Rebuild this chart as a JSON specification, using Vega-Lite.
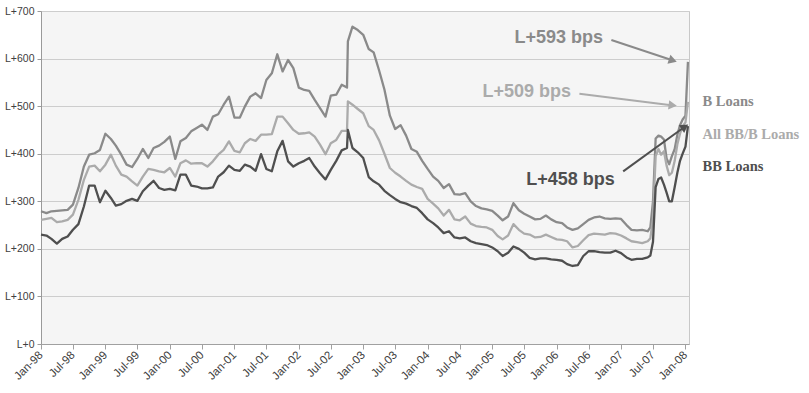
{
  "$schema": "https://vega.github.io/schema/vega-lite/v6.json",
  "width": 648,
  "height": 333,
  "autosize": {"type": "none"},
  "padding": {"left": 41, "top": 11, "right": 120, "bottom": 49},
  "background": "white",
  "config": {
    "view": {"fill": "#f5f5f5", "stroke": "#c8c8c8", "strokeWidth": 1},
    "font": "Liberation Sans",
    "axis": {"labelFont": "Liberation Sans", "labelFontSize": 10.5, "labelColor": "#404040", "title": null}
  },
  "datasets": {
    "spreads": [
      {"date": "1998-01-01", "B Loans": 279, "All BB/B Loans": 261, "BB Loans": 230},
      {"date": "1998-02-01", "B Loans": 275, "All BB/B Loans": 263, "BB Loans": 228},
      {"date": "1998-03-01", "B Loans": 279, "All BB/B Loans": 265, "BB Loans": 221},
      {"date": "1998-04-01", "B Loans": 280, "All BB/B Loans": 256, "BB Loans": 211},
      {"date": "1998-05-01", "B Loans": 281, "All BB/B Loans": 258, "BB Loans": 221},
      {"date": "1998-06-01", "B Loans": 282, "All BB/B Loans": 261, "BB Loans": 226},
      {"date": "1998-07-01", "B Loans": 293, "All BB/B Loans": 272, "BB Loans": 240},
      {"date": "1998-08-01", "B Loans": 328, "All BB/B Loans": 303, "BB Loans": 252},
      {"date": "1998-09-01", "B Loans": 373, "All BB/B Loans": 345, "BB Loans": 289},
      {"date": "1998-10-01", "B Loans": 398, "All BB/B Loans": 373, "BB Loans": 333},
      {"date": "1998-11-01", "B Loans": 401, "All BB/B Loans": 375, "BB Loans": 333},
      {"date": "1998-12-01", "B Loans": 408, "All BB/B Loans": 363, "BB Loans": 298},
      {"date": "1999-01-01", "B Loans": 442, "All BB/B Loans": 377, "BB Loans": 322},
      {"date": "1999-02-01", "B Loans": 431, "All BB/B Loans": 398, "BB Loans": 307},
      {"date": "1999-03-01", "B Loans": 417, "All BB/B Loans": 375, "BB Loans": 291},
      {"date": "1999-04-01", "B Loans": 398, "All BB/B Loans": 356, "BB Loans": 294},
      {"date": "1999-05-01", "B Loans": 377, "All BB/B Loans": 352, "BB Loans": 301},
      {"date": "1999-06-01", "B Loans": 372, "All BB/B Loans": 342, "BB Loans": 305},
      {"date": "1999-07-01", "B Loans": 389, "All BB/B Loans": 333, "BB Loans": 301},
      {"date": "1999-08-01", "B Loans": 410, "All BB/B Loans": 352, "BB Loans": 321},
      {"date": "1999-09-01", "B Loans": 391, "All BB/B Loans": 368, "BB Loans": 333},
      {"date": "1999-10-01", "B Loans": 412, "All BB/B Loans": 366, "BB Loans": 343},
      {"date": "1999-11-01", "B Loans": 417, "All BB/B Loans": 363, "BB Loans": 328},
      {"date": "1999-12-01", "B Loans": 425, "All BB/B Loans": 361, "BB Loans": 324},
      {"date": "2000-01-01", "B Loans": 436, "All BB/B Loans": 370, "BB Loans": 326},
      {"date": "2000-02-01", "B Loans": 389, "All BB/B Loans": 352, "BB Loans": 323},
      {"date": "2000-03-01", "B Loans": 426, "All BB/B Loans": 380, "BB Loans": 356},
      {"date": "2000-04-01", "B Loans": 433, "All BB/B Loans": 386, "BB Loans": 356},
      {"date": "2000-05-01", "B Loans": 447, "All BB/B Loans": 379, "BB Loans": 333},
      {"date": "2000-06-01", "B Loans": 454, "All BB/B Loans": 380, "BB Loans": 331},
      {"date": "2000-07-01", "B Loans": 461, "All BB/B Loans": 380, "BB Loans": 327},
      {"date": "2000-08-01", "B Loans": 450, "All BB/B Loans": 373, "BB Loans": 327},
      {"date": "2000-09-01", "B Loans": 478, "All BB/B Loans": 384, "BB Loans": 329},
      {"date": "2000-10-01", "B Loans": 483, "All BB/B Loans": 398, "BB Loans": 352},
      {"date": "2000-11-01", "B Loans": 503, "All BB/B Loans": 408, "BB Loans": 361},
      {"date": "2000-12-01", "B Loans": 520, "All BB/B Loans": 426, "BB Loans": 375},
      {"date": "2001-01-01", "B Loans": 476, "All BB/B Loans": 406, "BB Loans": 366},
      {"date": "2001-02-01", "B Loans": 476, "All BB/B Loans": 403, "BB Loans": 364},
      {"date": "2001-03-01", "B Loans": 499, "All BB/B Loans": 422, "BB Loans": 377},
      {"date": "2001-04-01", "B Loans": 520, "All BB/B Loans": 431, "BB Loans": 373},
      {"date": "2001-05-01", "B Loans": 527, "All BB/B Loans": 427, "BB Loans": 364},
      {"date": "2001-06-01", "B Loans": 517, "All BB/B Loans": 440, "BB Loans": 399},
      {"date": "2001-07-01", "B Loans": 555, "All BB/B Loans": 440, "BB Loans": 368},
      {"date": "2001-08-01", "B Loans": 569, "All BB/B Loans": 441, "BB Loans": 363},
      {"date": "2001-09-01", "B Loans": 609, "All BB/B Loans": 478, "BB Loans": 405},
      {"date": "2001-10-01", "B Loans": 573, "All BB/B Loans": 478, "BB Loans": 427},
      {"date": "2001-11-01", "B Loans": 597, "All BB/B Loans": 464, "BB Loans": 384},
      {"date": "2001-12-01", "B Loans": 580, "All BB/B Loans": 450, "BB Loans": 373},
      {"date": "2002-01-01", "B Loans": 539, "All BB/B Loans": 442, "BB Loans": 380},
      {"date": "2002-02-01", "B Loans": 534, "All BB/B Loans": 443, "BB Loans": 385},
      {"date": "2002-03-01", "B Loans": 532, "All BB/B Loans": 445, "BB Loans": 391},
      {"date": "2002-04-01", "B Loans": 513, "All BB/B Loans": 436, "BB Loans": 373},
      {"date": "2002-05-01", "B Loans": 496, "All BB/B Loans": 419, "BB Loans": 359},
      {"date": "2002-06-01", "B Loans": 478, "All BB/B Loans": 399, "BB Loans": 346},
      {"date": "2002-07-01", "B Loans": 522, "All BB/B Loans": 422, "BB Loans": 366},
      {"date": "2002-08-01", "B Loans": 524, "All BB/B Loans": 429, "BB Loans": 385},
      {"date": "2002-09-01", "B Loans": 545, "All BB/B Loans": 448, "BB Loans": 407},
      {"date": "2002-10-01", "B Loans": 539, "All BB/B Loans": 448, "BB Loans": 412},
      {"date": "2002-10-06", "B Loans": 636, "All BB/B Loans": 510, "BB Loans": 450},
      {"date": "2002-11-01", "B Loans": 667, "All BB/B Loans": 503, "BB Loans": 412},
      {"date": "2002-12-01", "B Loans": 660, "All BB/B Loans": 494, "BB Loans": 403},
      {"date": "2003-01-01", "B Loans": 650, "All BB/B Loans": 485, "BB Loans": 391},
      {"date": "2003-02-01", "B Loans": 620, "All BB/B Loans": 458, "BB Loans": 351},
      {"date": "2003-03-01", "B Loans": 613, "All BB/B Loans": 450, "BB Loans": 342},
      {"date": "2003-04-01", "B Loans": 575, "All BB/B Loans": 428, "BB Loans": 335},
      {"date": "2003-05-01", "B Loans": 535, "All BB/B Loans": 400, "BB Loans": 322},
      {"date": "2003-06-01", "B Loans": 480, "All BB/B Loans": 370, "BB Loans": 313},
      {"date": "2003-07-01", "B Loans": 452, "All BB/B Loans": 360, "BB Loans": 305},
      {"date": "2003-08-01", "B Loans": 460, "All BB/B Loans": 352, "BB Loans": 298},
      {"date": "2003-09-01", "B Loans": 438, "All BB/B Loans": 343, "BB Loans": 295},
      {"date": "2003-10-01", "B Loans": 410, "All BB/B Loans": 335, "BB Loans": 290},
      {"date": "2003-11-01", "B Loans": 404, "All BB/B Loans": 330, "BB Loans": 286},
      {"date": "2003-12-01", "B Loans": 385, "All BB/B Loans": 326, "BB Loans": 275},
      {"date": "2004-01-01", "B Loans": 368, "All BB/B Loans": 305, "BB Loans": 262},
      {"date": "2004-02-01", "B Loans": 352, "All BB/B Loans": 295, "BB Loans": 254},
      {"date": "2004-03-01", "B Loans": 343, "All BB/B Loans": 285, "BB Loans": 245},
      {"date": "2004-04-01", "B Loans": 328, "All BB/B Loans": 270, "BB Loans": 233},
      {"date": "2004-05-01", "B Loans": 336, "All BB/B Loans": 282, "BB Loans": 237},
      {"date": "2004-06-01", "B Loans": 315, "All BB/B Loans": 262, "BB Loans": 224},
      {"date": "2004-07-01", "B Loans": 314, "All BB/B Loans": 260, "BB Loans": 222},
      {"date": "2004-08-01", "B Loans": 317, "All BB/B Loans": 268, "BB Loans": 224},
      {"date": "2004-09-01", "B Loans": 300, "All BB/B Loans": 253, "BB Loans": 216},
      {"date": "2004-10-01", "B Loans": 290, "All BB/B Loans": 248, "BB Loans": 212},
      {"date": "2004-11-01", "B Loans": 285, "All BB/B Loans": 246, "BB Loans": 210},
      {"date": "2004-12-01", "B Loans": 283, "All BB/B Loans": 245, "BB Loans": 208},
      {"date": "2005-01-01", "B Loans": 280, "All BB/B Loans": 240, "BB Loans": 203},
      {"date": "2005-02-01", "B Loans": 270, "All BB/B Loans": 227, "BB Loans": 195},
      {"date": "2005-03-01", "B Loans": 260, "All BB/B Loans": 220, "BB Loans": 185},
      {"date": "2005-04-01", "B Loans": 268, "All BB/B Loans": 228, "BB Loans": 192},
      {"date": "2005-05-01", "B Loans": 296, "All BB/B Loans": 252, "BB Loans": 205},
      {"date": "2005-06-01", "B Loans": 281, "All BB/B Loans": 240, "BB Loans": 200},
      {"date": "2005-07-01", "B Loans": 274, "All BB/B Loans": 232, "BB Loans": 192},
      {"date": "2005-08-01", "B Loans": 268, "All BB/B Loans": 230, "BB Loans": 181},
      {"date": "2005-09-01", "B Loans": 262, "All BB/B Loans": 224, "BB Loans": 178},
      {"date": "2005-10-01", "B Loans": 263, "All BB/B Loans": 225, "BB Loans": 180},
      {"date": "2005-11-01", "B Loans": 270, "All BB/B Loans": 230, "BB Loans": 180},
      {"date": "2005-12-01", "B Loans": 262, "All BB/B Loans": 225, "BB Loans": 178},
      {"date": "2006-01-01", "B Loans": 256, "All BB/B Loans": 220, "BB Loans": 177},
      {"date": "2006-02-01", "B Loans": 254, "All BB/B Loans": 219, "BB Loans": 175},
      {"date": "2006-03-01", "B Loans": 245, "All BB/B Loans": 216, "BB Loans": 168},
      {"date": "2006-04-01", "B Loans": 240, "All BB/B Loans": 203, "BB Loans": 164},
      {"date": "2006-05-01", "B Loans": 243, "All BB/B Loans": 206, "BB Loans": 166},
      {"date": "2006-06-01", "B Loans": 252, "All BB/B Loans": 218, "BB Loans": 185},
      {"date": "2006-07-01", "B Loans": 261, "All BB/B Loans": 229, "BB Loans": 195},
      {"date": "2006-08-01", "B Loans": 266, "All BB/B Loans": 232, "BB Loans": 195},
      {"date": "2006-09-01", "B Loans": 268, "All BB/B Loans": 231, "BB Loans": 193},
      {"date": "2006-10-01", "B Loans": 264, "All BB/B Loans": 230, "BB Loans": 192},
      {"date": "2006-11-01", "B Loans": 263, "All BB/B Loans": 233, "BB Loans": 192},
      {"date": "2006-12-01", "B Loans": 264, "All BB/B Loans": 232, "BB Loans": 196},
      {"date": "2007-01-01", "B Loans": 263, "All BB/B Loans": 228, "BB Loans": 191},
      {"date": "2007-02-01", "B Loans": 250, "All BB/B Loans": 222, "BB Loans": 182},
      {"date": "2007-03-01", "B Loans": 240, "All BB/B Loans": 216, "BB Loans": 177},
      {"date": "2007-04-01", "B Loans": 239, "All BB/B Loans": 214, "BB Loans": 179},
      {"date": "2007-05-01", "B Loans": 240, "All BB/B Loans": 212, "BB Loans": 179},
      {"date": "2007-06-01", "B Loans": 237, "All BB/B Loans": 216, "BB Loans": 182},
      {"date": "2007-06-16", "B Loans": 245, "All BB/B Loans": 222, "BB Loans": 186},
      {"date": "2007-07-01", "B Loans": 300, "All BB/B Loans": 265, "BB Loans": 215},
      {"date": "2007-07-16", "B Loans": 432, "All BB/B Loans": 395, "BB Loans": 330},
      {"date": "2007-08-01", "B Loans": 438, "All BB/B Loans": 410, "BB Loans": 347},
      {"date": "2007-08-16", "B Loans": 436, "All BB/B Loans": 398, "BB Loans": 350},
      {"date": "2007-09-01", "B Loans": 430, "All BB/B Loans": 405, "BB Loans": 335},
      {"date": "2007-09-16", "B Loans": 390, "All BB/B Loans": 375, "BB Loans": 318},
      {"date": "2007-10-01", "B Loans": 378, "All BB/B Loans": 355, "BB Loans": 300},
      {"date": "2007-10-16", "B Loans": 395, "All BB/B Loans": 360, "BB Loans": 300},
      {"date": "2007-11-01", "B Loans": 410, "All BB/B Loans": 385, "BB Loans": 330},
      {"date": "2007-11-16", "B Loans": 440, "All BB/B Loans": 420, "BB Loans": 360},
      {"date": "2007-12-01", "B Loans": 460, "All BB/B Loans": 442, "BB Loans": 385},
      {"date": "2007-12-16", "B Loans": 472, "All BB/B Loans": 458, "BB Loans": 400},
      {"date": "2008-01-01", "B Loans": 480, "All BB/B Loans": 466, "BB Loans": 415},
      {"date": "2008-01-15", "B Loans": 593, "All BB/B Loans": 509, "BB Loans": 458}
    ],
    "notes": [
      {"series": "B Loans", "label": "L+593 bps", "date": "2006-01-13", "value": 633},
      {"series": "All BB/B Loans", "label": "L+509 bps", "date": "2005-07-16", "value": 520},
      {"series": "BB Loans", "label": "L+458 bps", "date": "2006-03-20", "value": 335}
    ],
    "arrows": [
      {"series": "B Loans", "date": "2006-11-07", "value": 639, "date2": "2007-10-14", "value2": 597},
      {"series": "All BB/B Loans", "date": "2006-05-10", "value": 526, "date2": "2007-10-13", "value2": 502},
      {"series": "BB Loans", "date": "2007-01-13", "value": 363, "date2": "2007-12-22", "value2": 455}
    ]
  },
  "encoding": {
    "x": {
      "field": "date", "type": "temporal",
      "scale": {"type": "utc", "domain": [883612800000, 1200873600000]},
      "axis": {
        "format": "%b-%y", "tickCount": {"interval": "month", "step": 6},
        "labelAngle": -45, "labelAlign": "right", "labelBaseline": "middle",
        "labelFontSize": 11.5, "labelPadding": 4, "tickSize": 5, "grid": false,
        "domainColor": "#a0a0a0", "tickColor": "#a0a0a0",
        "labelOverlap": false, "labelFlush": false
      }
    },
    "y": {
      "field": "value", "type": "quantitative",
      "scale": {"domain": [0, 700], "nice": false},
      "axis": {
        "values": [0, 100, 200, 300, 400, 500, 600, 700],
        "labelExpr": "'L+' + datum.value",
        "grid": true, "gridColor": "#cdcdcd", "gridWidth": 1,
        "domainColor": "#9a9a9a", "tickColor": "#9a9a9a", "tickSize": 4, "labelPadding": 3
      }
    },
    "color": {
      "field": "series", "type": "nominal",
      "scale": {"domain": ["B Loans", "All BB/B Loans", "BB Loans"], "range": ["#8a8a8a", "#ababab", "#4f4f4f"]},
      "legend": {
        "orient": "none", "legendX": 647, "legendY": 84, "title": null,
        "symbolSize": 0, "symbolStrokeWidth": 0, "symbolOpacity": 0, "labelOffset": 0,
        "labelFont": "Liberation Serif", "labelFontWeight": "bold", "labelFontSize": 14.5,
        "rowPadding": 17.5, "padding": 0,
        "encode": {"labels": {"update": {"fill": {"scale": "color", "field": "value"}}}}
      }
    }
  },
  "layer": [
    {
      "data": {"name": "spreads"},
      "transform": [{"fold": ["B Loans", "All BB/B Loans", "BB Loans"], "as": ["series", "value"]}],
      "mark": {"type": "line", "strokeWidth": 2.3, "strokeJoin": "round"}
    },
    {
      "data": {"name": "arrows"},
      "mark": {"type": "rule", "strokeWidth": 2},
      "encoding": {"x2": {"field": "date2"}, "y2": {"field": "value2"}}
    },
    {
      "data": {"name": "arrows"},
      "transform": [{"filter": "datum.series === 'B Loans'"}],
      "mark": {"type": "point", "shape": "triangle", "filled": true, "size": 90, "angle": 108.5, "opacity": 1},
      "encoding": {"x": {"field": "date2", "type": "temporal"}, "y": {"field": "value2", "type": "quantitative"}}
    },
    {
      "data": {"name": "arrows"},
      "transform": [{"filter": "datum.series === 'All BB/B Loans'"}],
      "mark": {"type": "point", "shape": "triangle", "filled": true, "size": 90, "angle": 97, "opacity": 1},
      "encoding": {"x": {"field": "date2", "type": "temporal"}, "y": {"field": "value2", "type": "quantitative"}}
    },
    {
      "data": {"name": "arrows"},
      "transform": [{"filter": "datum.series === 'BB Loans'"}],
      "mark": {"type": "point", "shape": "triangle", "filled": true, "size": 90, "angle": 55, "opacity": 1},
      "encoding": {"x": {"field": "date2", "type": "temporal"}, "y": {"field": "value2", "type": "quantitative"}}
    },
    {
      "data": {"name": "notes"},
      "mark": {"type": "text", "font": "Liberation Sans", "fontSize": 18, "fontWeight": "bold", "align": "center", "baseline": "alphabetic"},
      "encoding": {"text": {"field": "label"}}
    }
  ]
}
